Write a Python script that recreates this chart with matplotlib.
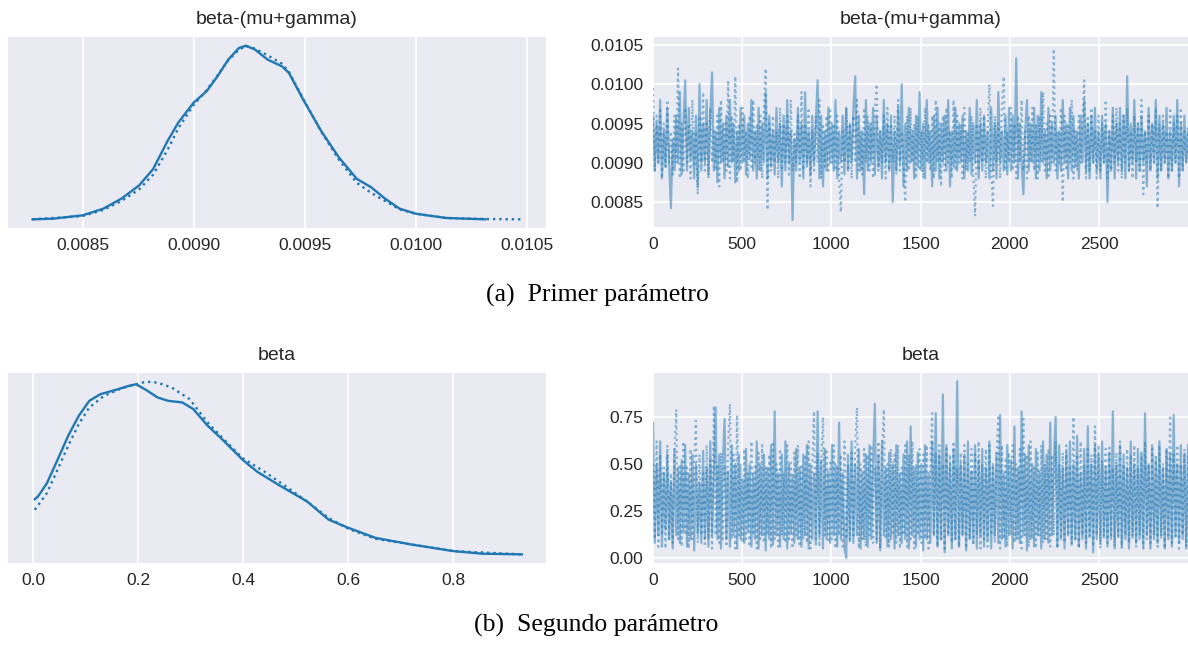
import numpy as np
import matplotlib
matplotlib.use('Agg')
import matplotlib.pyplot as plt
from matplotlib.ticker import MultipleLocator, FormatStrFormatter

plt.rcParams['font.family'] = ['Liberation Sans', 'DejaVu Sans']

BLUE = '#1f77b4'
BG = '#EAEAF2'
TXT = '#262626'

# --- beta-(mu+gamma): KDE (x value, relative height) ---
kde1_x_a = [0.008275, 0.008368, 0.0085, 0.008593, 0.008674, 0.008754, 0.008818, 0.008883,
            0.008931, 0.0090, 0.009059, 0.009108, 0.009156, 0.009204, 0.009236, 0.009277,
            0.009333, 0.009397, 0.009429, 0.009497, 0.009574, 0.009654, 0.009735, 0.009799,
            0.009863, 0.009928, 0.0100, 0.010137, 0.010314]
kde1_y_a = [0, 2, 12, 32, 62, 102, 152, 237, 292, 352, 387, 432, 482, 517, 524, 512,
            482, 462, 442, 357, 267, 187, 122, 97, 62, 32, 17, 4, 0]
kde1_x_b = [0.008275, 0.0085, 0.008593, 0.008674, 0.008754, 0.008818, 0.008883, 0.008931,
            0.0090, 0.009059, 0.009108, 0.009156, 0.009204, 0.009236, 0.009277, 0.009333,
            0.009397, 0.009429, 0.009497, 0.009574, 0.009654, 0.009735, 0.009799, 0.009863,
            0.009928, 0.0100, 0.010137, 0.010314, 0.010474]
kde1_y_b = [0, 10, 28, 55, 90, 135, 210, 275, 345, 390, 435, 480, 512, 522, 515, 495,
            470, 445, 360, 265, 180, 110, 80, 55, 30, 17, 4, 1, 0]

# --- beta: KDE ---
kde2_x_a = [0.003, 0.009, 0.026, 0.046, 0.067, 0.087, 0.107, 0.128, 0.155, 0.182, 0.196,
            0.216, 0.237, 0.257, 0.284, 0.305, 0.332, 0.359, 0.40, 0.427, 0.468, 0.522,
            0.563, 0.601, 0.652, 0.72, 0.80, 0.856, 0.931]
kde2_y_a = [167, 175, 215, 285, 360, 420, 465, 485, 497, 510, 515, 497, 475, 465, 460,
            440, 390, 350, 285, 250, 210, 160, 105, 80, 50, 30, 10, 2, 0]
kde2_x_b = [0.003, 0.026, 0.046, 0.067, 0.087, 0.107, 0.135, 0.169, 0.196, 0.216, 0.237,
            0.264, 0.298, 0.332, 0.359, 0.40, 0.441, 0.482, 0.522, 0.563, 0.601, 0.652,
            0.72, 0.80, 0.931]
kde2_y_b = [135, 185, 255, 330, 395, 445, 480, 503, 515, 523, 520, 505, 470, 400, 355,
            290, 250, 205, 160, 110, 77, 47, 30, 10, 0]

# --- traces, every 10th draw ---
# beta-(mu+gamma), units of 1e-3
trace1_a = [9.6, 8.9, 9.5, 9.0, 9.8, 8.8, 9.4, 8.95, 9.7, 9.0,
            8.42, 9.3, 8.9, 9.6, 9.0, 9.9, 8.85, 9.5, 10.05, 8.9,
            9.7, 9.05, 9.4, 8.8, 9.6, 8.7, 10.0, 8.9, 9.5, 9.0,
            9.8, 8.85, 9.6, 10.15, 8.9, 9.4, 8.75, 9.7, 9.0, 9.5,
            8.8, 9.6, 8.95, 9.8, 9.0, 9.5, 8.75, 9.4, 8.9, 9.7,
            9.0, 9.6, 8.85, 9.5, 9.05, 9.8, 8.9, 9.4, 8.8, 9.7,
            8.9, 9.5, 9.0, 9.9, 8.8, 9.6, 8.95, 9.4, 8.85, 9.7,
            9.0, 9.5, 8.7, 9.6, 8.9, 9.8, 9.0, 9.4, 8.27, 9.3,
            8.9, 9.7, 9.0, 9.5, 8.8, 9.9, 8.95, 9.4, 8.85, 9.6,
            9.0, 9.5, 10.05, 8.8, 9.6, 8.7, 9.4, 8.9, 9.7, 9.0,
            9.5, 8.9, 9.8, 8.8, 9.4, 9.0, 9.6, 8.85, 9.7, 8.9,
            9.5, 9.0, 9.7, 10.1, 8.8, 9.6, 8.9, 9.4, 8.6, 9.8,
            8.9, 9.5, 9.0, 9.7, 8.85, 9.6, 8.95, 9.4, 8.8, 9.8,
            9.0, 9.5, 8.9, 9.6, 8.5, 9.4, 8.9, 9.7, 9.0, 10.0,
            8.7, 9.5, 8.9, 9.7, 9.0, 9.4, 8.8, 9.6, 8.95, 9.9,
            8.9, 9.5, 8.8, 9.8, 9.0, 9.4, 8.7, 9.6, 8.9, 9.7,
            8.8, 9.5, 9.0, 9.6, 8.9, 9.8, 8.7, 9.4, 8.95, 9.7,
            8.9, 9.5, 9.0, 9.6, 8.8, 9.4, 8.9, 9.7, 8.85, 9.5,
            9.0, 9.8, 8.8, 9.5, 8.9, 9.6, 9.0, 9.4, 8.8, 9.7,
            8.9, 9.5, 8.8, 9.9, 9.0, 9.4, 8.9, 9.6, 8.85, 9.7,
            8.9, 9.6, 9.0, 10.33, 8.8, 9.5, 9.0, 8.6, 9.4, 9.8,
            8.9, 9.5, 9.0, 9.7, 8.8, 9.6, 8.9, 9.9, 9.0, 9.4,
            8.8, 9.7, 8.9, 9.5, 9.0, 9.6, 8.8, 9.4, 8.9, 9.8,
            9.0, 9.5, 8.8, 9.7, 8.9, 9.6, 8.95, 9.4, 8.8, 9.6,
            9.0, 9.8, 8.9, 9.5, 8.8, 9.6, 9.0, 9.7, 8.9, 9.4,
            8.8, 9.6, 9.0, 9.5, 8.5, 9.4, 8.9, 9.7, 8.8, 9.5,
            9.0, 9.7, 8.9, 9.6, 8.8, 10.1, 8.9, 9.5, 9.0, 9.8,
            8.8, 9.5, 8.9, 9.6, 9.0, 9.4, 8.7, 9.7, 8.9, 9.5,
            9.0, 9.8, 8.8, 9.6, 8.9, 9.5, 9.0, 9.7, 8.8, 9.4,
            8.9, 9.6, 9.0, 9.8, 8.7, 9.5, 8.9, 9.6, 9.0, 9.4]
trace1_b = [9.95, 8.9, 9.6, 9.0, 9.7, 8.8, 9.5, 8.95, 9.8, 9.0,
            9.4, 8.85, 9.6, 9.0, 10.2, 8.8, 9.5, 8.9, 9.7, 9.0,
            9.5, 8.8, 9.8, 8.95, 9.4, 8.6, 9.6, 9.0, 9.9, 8.9,
            9.5, 8.8, 9.7, 9.0, 9.4, 8.9, 9.6, 8.7, 9.8, 9.0,
            9.5, 8.9, 10.05, 8.8, 9.6, 9.0, 10.1, 8.75, 9.5, 8.9,
            9.7, 9.0, 9.4, 8.8, 9.6, 8.95, 9.8, 9.0, 9.5, 8.9,
            9.6, 8.8, 9.7, 10.2, 8.4, 9.5, 8.9, 9.6, 9.0, 9.4,
            8.8, 9.7, 8.9, 9.5, 9.0, 9.6, 8.85, 9.8, 8.9, 9.4,
            9.0, 9.6, 8.8, 9.9, 8.9, 9.5, 9.0, 9.7, 8.7, 9.4,
            8.9, 9.6, 9.0, 9.8, 8.8, 9.5, 8.95, 9.6, 8.9, 9.7,
            9.0, 9.5, 8.9, 9.6, 8.8, 8.37, 9.4, 9.0, 9.7, 8.9,
            9.5, 8.8, 9.6, 9.0, 9.8, 8.9, 9.4, 8.85, 9.7, 9.0,
            9.6, 8.9, 9.5, 8.8, 9.7, 10.0, 8.9, 9.4, 9.0, 9.6,
            8.8, 9.7, 8.9, 9.5, 9.0, 9.6, 8.85, 9.8, 8.9, 9.4,
            9.0, 8.5, 9.6, 8.9, 9.7, 9.0, 9.5, 8.8, 9.6, 8.9,
            9.4, 8.8, 9.7, 9.0, 9.5, 8.9, 9.6, 8.8, 9.8, 9.0,
            9.5, 8.7, 9.6, 8.9, 9.7, 9.0, 9.4, 8.8, 9.8, 8.9,
            9.6, 9.0, 9.5, 8.8, 9.7, 8.9, 9.4, 9.0, 9.6, 8.85,
            8.32, 9.5, 8.9, 9.7, 9.0, 9.6, 8.8, 9.4, 10.0, 8.9,
            8.45, 9.6, 9.0, 9.5, 8.8, 9.7, 10.1, 8.9, 9.4, 9.0,
            9.7, 8.9, 9.5, 8.8, 9.6, 9.0, 9.8, 8.9, 9.4, 8.8,
            9.6, 9.0, 9.7, 8.9, 9.5, 8.8, 9.6, 9.0, 9.9, 8.9,
            9.5, 8.8, 9.6, 9.0, 10.45, 8.9, 9.4, 9.0, 9.7, 8.5,
            9.6, 8.9, 9.5, 9.0, 9.8, 8.8, 9.4, 8.9, 9.6, 9.0,
            9.5, 10.05, 8.8, 9.6, 8.9, 9.7, 9.0, 9.4, 8.8, 9.6,
            8.9, 9.5, 9.0, 9.8, 8.8, 9.4, 8.9, 9.6, 9.0, 9.7,
            8.9, 9.5, 8.8, 9.6, 9.0, 9.7, 8.9, 9.4, 8.8, 9.6,
            9.0, 9.5, 8.9, 9.8, 8.6, 9.4, 9.0, 9.6, 8.9, 9.5,
            9.0, 9.7, 8.42, 9.5, 8.9, 9.6, 9.0, 9.4, 8.8, 9.7,
            8.9, 9.5, 9.0, 9.6, 8.8, 9.7, 8.9, 9.4, 9.0, 9.5]

# beta
trace2_a = [0.72, 0.08, 0.5, 0.12, 0.62, 0.06, 0.45, 0.15, 0.55, 0.1,
            0.4, 0.05, 0.58, 0.12, 0.48, 0.08, 0.52, 0.14, 0.6, 0.06,
            0.45, 0.1, 0.55, 0.04, 0.5, 0.13, 0.4, 0.08, 0.57, 0.1,
            0.48, 0.06, 0.62, 0.12, 0.45, 0.8, 0.1, 0.55, 0.05, 0.5,
            0.74, 0.1, 0.46, 0.06, 0.6, 0.12, 0.5, 0.05, 0.55, 0.1,
            0.42, 0.08, 0.58, 0.14, 0.5, 0.06, 0.45, 0.1, 0.62, 0.05,
            0.5, 0.12, 0.55, 0.04, 0.48, 0.1, 0.6, 0.07, 0.78, 0.12,
            0.45, 0.06, 0.55, 0.1, 0.62, 0.05, 0.5, 0.13, 0.44, 0.08,
            0.58, 0.1, 0.48, 0.06, 0.55, 0.12, 0.6, 0.05, 0.5, 0.1,
            0.45, 0.07, 0.78, 0.12, 0.52, 0.05, 0.58, 0.1, 0.46, 0.08,
            0.6, 0.12, 0.5, 0.06, 0.72, 0.1, 0.45, 0.05, 0.0, 0.55,
            0.1, 0.62, 0.08, 0.5, 0.12, 0.58, 0.05, 0.46, 0.1, 0.55,
            0.06, 0.6, 0.1, 0.5, 0.82, 0.08, 0.55, 0.04, 0.62, 0.12,
            0.48, 0.06, 0.56, 0.1, 0.5, 0.05, 0.6, 0.12, 0.45, 0.08,
            0.55, 0.1, 0.62, 0.05, 0.7, 0.12, 0.48, 0.06, 0.56, 0.1,
            0.5, 0.04, 0.6, 0.1, 0.45, 0.08, 0.62, 0.12, 0.77, 0.06,
            0.55, 0.1, 0.87, 0.03, 0.6, 0.12, 0.5, 0.05, 0.58, 0.1,
            0.94, 0.06, 0.5, 0.12, 0.55, 0.04, 0.62, 0.1, 0.46, 0.08,
            0.6, 0.05, 0.52, 0.12, 0.58, 0.06, 0.48, 0.1, 0.62, 0.05,
            0.5, 0.12, 0.56, 0.08, 0.76, 0.1, 0.45, 0.06, 0.6, 0.12,
            0.52, 0.05, 0.7, 0.1, 0.48, 0.08, 0.78, 0.12, 0.55, 0.04,
            0.6, 0.1, 0.5, 0.06, 0.58, 0.12, 0.46, 0.05, 0.62, 0.1,
            0.55, 0.08, 0.72, 0.12, 0.5, 0.75, 0.06, 0.6, 0.1, 0.48,
            0.05, 0.56, 0.12, 0.62, 0.08, 0.5, 0.1, 0.65, 0.06, 0.45,
            0.1, 0.58, 0.05, 0.7, 0.12, 0.5, 0.03, 0.6, 0.1, 0.55,
            0.08, 0.62, 0.12, 0.48, 0.06, 0.56, 0.1, 0.78, 0.05, 0.5,
            0.12, 0.6, 0.06, 0.55, 0.1, 0.48, 0.05, 0.62, 0.12, 0.5,
            0.08, 0.58, 0.1, 0.55, 0.06, 0.77, 0.12, 0.5, 0.05, 0.6,
            0.1, 0.52, 0.08, 0.62, 0.12, 0.48, 0.05, 0.58, 0.1, 0.55,
            0.06, 0.76, 0.12, 0.5, 0.08, 0.6, 0.1, 0.55, 0.05, 0.6]
trace2_b = [0.5, 0.1, 0.62, 0.06, 0.55, 0.12, 0.48, 0.05, 0.6, 0.1,
            0.45, 0.08, 0.56, 0.79, 0.1, 0.5, 0.06, 0.62, 0.12, 0.48,
            0.05, 0.58, 0.1, 0.5, 0.73, 0.08, 0.55, 0.12, 0.45, 0.06,
            0.6, 0.1, 0.52, 0.05, 0.81, 0.12, 0.5, 0.08, 0.56, 0.1,
            0.48, 0.06, 0.6, 0.82, 0.1, 0.55, 0.05, 0.76, 0.12, 0.5,
            0.08, 0.58, 0.1, 0.45, 0.06, 0.62, 0.12, 0.5, 0.05, 0.56,
            0.1, 0.6, 0.08, 0.48, 0.12, 0.55, 0.05, 0.62, 0.1, 0.5,
            0.06, 0.58, 0.12, 0.45, 0.08, 0.6, 0.1, 0.52, 0.05, 0.56,
            0.12, 0.6, 0.06, 0.5, 0.1, 0.55, 0.08, 0.62, 0.05, 0.48,
            0.78, 0.1, 0.56, 0.06, 0.5, 0.75, 0.12, 0.58, 0.08, 0.52,
            0.1, 0.6, 0.05, 0.48, 0.12, 0.55, 0.06, 0.62, 0.1, 0.5,
            0.08, 0.56, 0.12, 0.6, 0.8, 0.05, 0.5, 0.1, 0.58, 0.06,
            0.55, 0.12, 0.6, 0.08, 0.48, 0.1, 0.62, 0.05, 0.55, 0.79,
            0.1, 0.5, 0.06, 0.58, 0.12, 0.55, 0.08, 0.6, 0.05, 0.48,
            0.12, 0.6, 0.06, 0.55, 0.1, 0.62, 0.05, 0.5, 0.12, 0.58,
            0.08, 0.55, 0.1, 0.6, 0.05, 0.48, 0.77, 0.12, 0.56, 0.06,
            0.6, 0.1, 0.5, 0.05, 0.58, 0.12, 0.55, 0.08, 0.62, 0.1,
            0.48, 0.06, 0.56, 0.12, 0.6, 0.05, 0.5, 0.1, 0.58, 0.08,
            0.55, 0.12, 0.62, 0.05, 0.5, 0.1, 0.58, 0.06, 0.6, 0.12,
            0.48, 0.08, 0.55, 0.76, 0.05, 0.6, 0.1, 0.52, 0.06, 0.56,
            0.12, 0.6, 0.08, 0.5, 0.1, 0.58, 0.05, 0.74, 0.12, 0.55,
            0.06, 0.62, 0.1, 0.48, 0.05, 0.56, 0.12, 0.6, 0.08, 0.5,
            0.1, 0.58, 0.06, 0.55, 0.12, 0.62, 0.05, 0.5, 0.1, 0.56,
            0.08, 0.6, 0.12, 0.48, 0.06, 0.75, 0.1, 0.55, 0.05, 0.62,
            0.12, 0.5, 0.08, 0.58, 0.1, 0.55, 0.06, 0.7, 0.12, 0.6,
            0.05, 0.52, 0.1, 0.58, 0.08, 0.6, 0.12, 0.48, 0.06, 0.56,
            0.1, 0.62, 0.05, 0.5, 0.12, 0.58, 0.08, 0.55, 0.1, 0.6,
            0.06, 0.48, 0.12, 0.56, 0.05, 0.62, 0.1, 0.5, 0.08, 0.58,
            0.12, 0.55, 0.06, 0.6, 0.1, 0.5, 0.05, 0.58, 0.12, 0.76,
            0.08, 0.55, 0.1, 0.6, 0.05, 0.5, 0.12, 0.58, 0.06, 0.55]

titles = ['beta-(mu+gamma)', 'beta']
captions = ['(a)  Primer parámetro', '(b)  Segundo parámetro']
n_draws = 3000


def style_ax(ax, title):
    ax.set_facecolor(BG)
    for s in ax.spines.values():
        s.set_visible(False)
    ax.grid(True, color='white', linewidth=1.3)
    ax.set_axisbelow(True)
    ax.tick_params(length=0, labelsize=12.5, colors=TXT, pad=7)
    ax.set_title(title, fontsize=14, color=TXT, pad=9)


def kde_panel(ax, xa, ya, xb, yb, title, xlim, step, fmt):
    style_ax(ax, title)
    ax.plot(xa, ya, color=BLUE, lw=1.7)
    ax.plot(xb, yb, color=BLUE, lw=1.7, ls=':')
    ax.set_xlim(*xlim)
    ax.set_yticks([])
    ax.grid(False, axis='y')
    ax.xaxis.set_major_locator(MultipleLocator(step))
    ax.xaxis.set_major_formatter(FormatStrFormatter(fmt))


def trace_panel(ax, ta, tb, title, ylim, step, fmt):
    style_ax(ax, title)
    xa = np.linspace(0, n_draws - 1, len(ta))
    xb = np.linspace(0, n_draws - 1, len(tb))
    ax.plot(xa, ta, color=BLUE, lw=1.6, alpha=0.5)
    ax.plot(xb, tb, color=BLUE, lw=1.6, alpha=0.5, ls=':')
    ax.set_xlim(0, n_draws - 1)
    ax.set_ylim(*ylim)
    ax.xaxis.set_major_locator(MultipleLocator(500))
    ax.yaxis.set_major_locator(MultipleLocator(step))
    ax.yaxis.set_major_formatter(FormatStrFormatter(fmt))


fig = plt.figure(figsize=(11.88, 6.46), dpi=100)
W, H = 1188, 646


def px_axes(l, t, r, b):
    return fig.add_axes([l / W, 1 - b / H, (r - l) / W, (b - t) / H])


ax1 = px_axes(8, 37, 546, 228)
ax2 = px_axes(653, 37, 1188, 227)
ax3 = px_axes(8, 373, 546, 563)
ax4 = px_axes(653, 373, 1188, 563)

lim1 = (0.008164, 0.010587)
kde_panel(ax1, kde1_x_a, kde1_y_a, kde1_x_b, kde1_y_b, titles[0], lim1, 0.0005, '%.4f')
trace_panel(ax2, np.array(trace1_a) * 1e-3, np.array(trace1_b) * 1e-3, titles[0],
            (0.008182, 0.010602), 0.0005, '%.4f')
kde_panel(ax3, kde2_x_a, kde2_y_a, kde2_x_b, kde2_y_b, titles[1], (-0.048, 0.977), 0.2, '%.1f')
trace_panel(ax4, trace2_a, trace2_b, titles[1], (-0.027, 0.984), 0.25, '%.2f')

fig.text(0.5025, 1 - 302 / H, captions[0], ha='center', va='baseline',
         fontsize=18.5, family=['Liberation Serif', 'DejaVu Serif'], color='black')
fig.text(0.5015, 1 - 632 / H, captions[1], ha='center', va='baseline',
         fontsize=18.5, family=['Liberation Serif', 'DejaVu Serif'], color='black')

fig.savefig('out.png', dpi=100)
